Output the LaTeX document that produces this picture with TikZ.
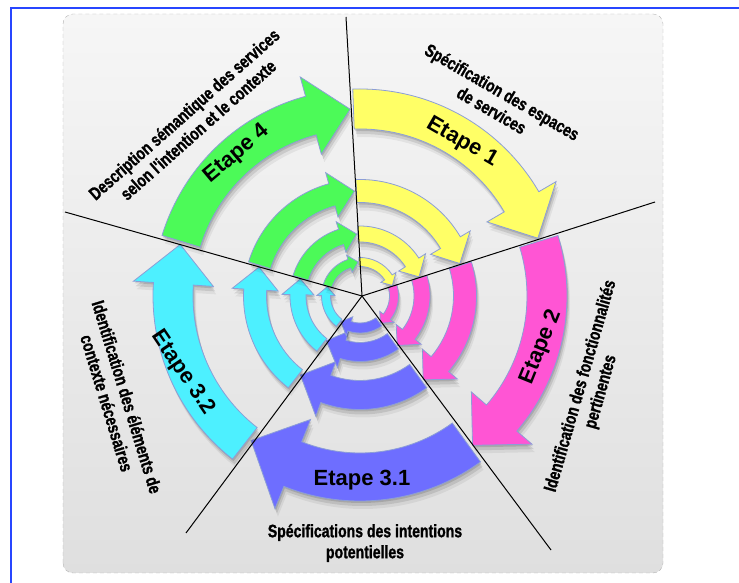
\documentclass[tikz,border=0pt]{standalone}
\usepackage{fontspec}
\setmainfont{Liberation Sans}
\newfontfamily\condfont[FakeStretch=0.78, FakeBold=1.2]{Liberation Sans Bold}
\usepackage{tikz}
\usetikzlibrary{shadows, calc}
\definecolor{etapeyellow}{RGB}{255, 255, 102}
\definecolor{etapemagenta}{RGB}{255, 85, 212}
\definecolor{etapepurple}{RGB}{110, 110, 255}
\definecolor{etapecyan}{RGB}{77, 240, 255}
\definecolor{etapegreen}{RGB}{76, 250, 88}
\definecolor{arrowrim}{RGB}{140, 158, 215}
\definecolor{frameblue}{RGB}{40, 70, 255}

% one ring arrow: colour, start angle, tip angle, mid radius, width
\newcommand{\ringarrow}[5]{%
  \pgfmathsetmacro{\ro}{#4+#5/2}
  \pgfmathsetmacro{\ri}{#4-#5/2}
  \pgfmathsetmacro{\bo}{#4+#5}
  \pgfmathsetmacro{\bi}{#4-#5}
  \pgfmathsetmacro{\ab}{#3+deg(#5/#4)}
  \pgfmathsetmacro{\as}{#2-1}
  \filldraw[steparrow, fill=#1] ([shift={(\as:\ro pt)}]R)
    arc[start angle=\as, end angle=\ab, radius=\ro pt]
    -- ([shift={(\ab:\bo pt)}]R) -- ([shift={(#3:#4 pt)}]R)
    -- ([shift={(\ab:\bi pt)}]R) -- ([shift={(\ab:\ri pt)}]R)
    arc[start angle=\ab, end angle=\as, radius=\ri pt] -- cycle;
}

\begin{document}
\begin{tikzpicture}[
        x=1pt, y=1pt,
        bgpanel/.style = {draw=gray!60, dash pattern=on 4pt off 3pt, rounded corners=10pt, top color=gray!7, bottom color=gray!25},
        steparrow/.style = {draw=arrowrim, line width=0.8pt,
            drop shadow={shadow xshift=1pt, shadow yshift=-2pt, opacity=0.12, fill=black},
            drop shadow={shadow xshift=2pt, shadow yshift=-5pt, opacity=0.10, fill=black},
            drop shadow={shadow xshift=3pt, shadow yshift=-8pt, opacity=0.06, fill=black}},
        sector/.style = {draw=black, line width=1pt},
        etapelabel/.style = {font=\bfseries\fontsize{22}{24}\selectfont, inner sep=0pt},
        desclabel/.style = {font=\condfont\fontsize{18}{21}\selectfont, align=center, inner sep=0pt}
    ]
        \useasboundingbox (0,0) rectangle (739,583);

        % Frame and panel
        \draw [frameblue, line width=1.5pt] (11,0) -- (11,575) -- (739,575);
        \path [bgpanel] (63,10) rectangle (663,569);

        % Centres
        \coordinate (R) at (360,287);
        \coordinate (C) at (362,287);

        % Ring arrows
        \foreach \r/\w/\pr/\pw in {187/40/181/48, 105/23/99/29, 62/16/56/19, 34/9/32/10} {
            \ringarrow{etapeyellow}{93}{18}{\r}{\w}
            \ringarrow{etapemagenta}{18}{-53}{\r}{\w}
            \ringarrow{etapepurple}{-53}{-127}{\pr}{\pw}
            \ringarrow{etapecyan}{233}{164}{\r}{\w}
            \ringarrow{etapegreen}{164}{93}{\r}{\w}
        }

        % Sector lines
        \coordinate (l1) at (346,566);
        \coordinate (l2) at (655,381);
        \coordinate (l3) at (551,33);
        \coordinate (l4) at (186,50);
        \coordinate (l5) at (65,371);
        \foreach \e in {l1, l2, l3, l4, l5}
            \draw [sector] (C) -- (\e);

        % Step labels
        \node [etapelabel, rotate=-30] (e1) at (462,441) {Etape 1};
        \node [etapelabel, rotate=68] (e2) at (541,236) {Etape 2};
        \node [etapelabel] (e31) at (362,103) {Etape 3.1};
        \node [etapelabel, rotate=-56] (e32) at (183,210) {Etape 3.2};
        \node [etapelabel, rotate=40] (e4) at (237,429) {Etape 4};

        % Descriptions
        \node [desclabel, rotate=-30] (d1) at (497,482) {Spécification des espaces\\de services};
        \node [desclabel, rotate=74] (d2) at (591,194) {Identification des fonctionnalités\\pertinentes};
        \node [desclabel] (d31) at (365,40) {Spécifications des intentions\\potentielles};
        \node [desclabel, rotate=-73] (d32) at (117,183) {Identification des éléments de\\contexte nécessaires};
        \node [desclabel, rotate=41.5] (d4) at (191,461) {Description sémantique des services\\selon l'intention et le contexte};
\end{tikzpicture}
\end{document}
